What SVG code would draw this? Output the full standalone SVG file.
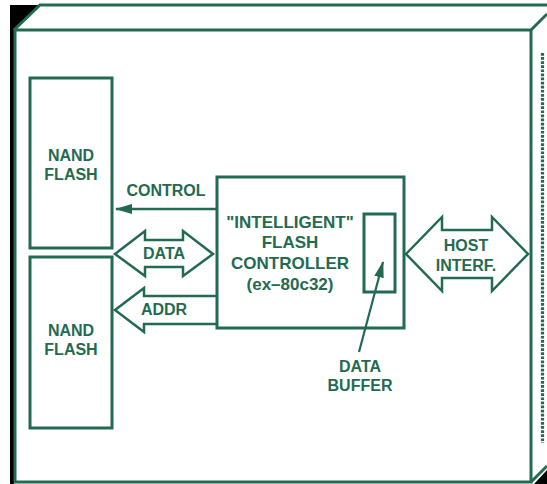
<svg xmlns="http://www.w3.org/2000/svg" width="547" height="484" viewBox="0 0 547 484">
  <style>
    .ln { fill: none; stroke: #236b50; stroke-width: 3; }
    .thin { fill: none; stroke: #236b50; stroke-width: 2.5; stroke-linejoin: miter; }
    .shape { fill: #ffffff; stroke: #236b50; stroke-width: 2.5; stroke-linejoin: miter; }
    .lbl { font-family: "Liberation Sans", Arial, sans-serif; font-weight: bold; font-size: 16px; fill: #236b50; text-anchor: middle; }
    .big { font-size: 17px; }
  </style>
  <defs>
    <marker id="head" viewBox="0 0 16 10" preserveAspectRatio="none" refX="15" refY="5" markerWidth="7.5" markerHeight="4.4" orient="auto" markerUnits="strokeWidth">
      <path d="M0,0 L16,5 L0,10 Z" fill="#236b50"/>
    </marker>
  </defs>
  <rect width="547" height="484" fill="#ffffff"/>

  <!-- enclosure: a box seen in perspective -->
  <g id="enclosure">
    <polygon points="10,5 40,5 14,30 14,484 10,484" fill="#000000"/>
    <polygon points="547,470 547,484 534,484" fill="#000000"/>
    <polyline class="ln" points="14,30 40,5 547,5"/>
    <line class="ln" x1="531" y1="30" x2="547" y2="14"/>
    <line class="ln" x1="531" y1="482" x2="547" y2="466"/>
    <rect class="ln" x="15" y="30" width="516" height="452"/>
    <line x1="542.5" y1="53" x2="542.5" y2="443" stroke="#236b50" stroke-width="3.2" stroke-dasharray="2.7 1.4"/>
  </g>

  <g id="nand1">
    <rect class="ln" x="30" y="78" width="82" height="170"/>
    <text class="lbl" x="71" y="161">NAND</text>
    <text class="lbl" x="71" y="180">FLASH</text>
  </g>

  <g id="nand2">
    <rect class="ln" x="30" y="257" width="82" height="171"/>
    <text class="lbl" x="71" y="336">NAND</text>
    <text class="lbl" x="71" y="355">FLASH</text>
  </g>

  <g id="controller">
    <rect class="ln" x="217" y="177" width="187" height="151"/>
    <text class="lbl big" x="290" y="228">"INTELLIGENT"</text>
    <text class="lbl big" x="290" y="248">FLASH</text>
    <text class="lbl big" x="290" y="269">CONTROLLER</text>
    <text class="lbl big" x="290" y="290">(ex–80c32)</text>
  </g>

  <g id="buffer">
    <rect class="ln" x="364" y="214" width="31" height="78"/>
  </g>

  <g id="buffer-label">
    <text class="lbl" x="360" y="372">DATA</text>
    <text class="lbl" x="360" y="391">BUFFER</text>
  </g>

  <g id="connectors">
    <!-- CONTROL: controller to flash -->
    <line x1="217" y1="209" x2="116" y2="209" stroke="#236b50" stroke-width="2.3" marker-end="url(#head)"/>
    <text class="lbl" x="166" y="196">CONTROL</text>

    <!-- DATA: bidirectional bus -->
    <polygon class="shape" points="115,254 145,231 145,240 183,240 183,231 213,254 183,276 183,267 145,267 145,276"/>
    <text class="lbl" x="164" y="259">DATA</text>

    <!-- ADDR: controller to flash -->
    <polyline class="thin" points="217,296 144,296 144,288 115,310 144,332 144,324 217,324"/>
    <text class="lbl" x="164" y="315">ADDR</text>

    <!-- host interface bus -->
    <polygon class="shape" points="406,254 442,217 442,230 492,230 492,217 528,254 492,291 492,278 442,278 442,291"/>
    <text class="lbl" x="466" y="251">HOST</text>
    <text class="lbl" x="466" y="271">INTERF.</text>

    <!-- pointer to the data buffer -->
    <line x1="359" y1="352" x2="383" y2="262" stroke="#236b50" stroke-width="2.2" marker-end="url(#head)"/>
  </g>
</svg>
